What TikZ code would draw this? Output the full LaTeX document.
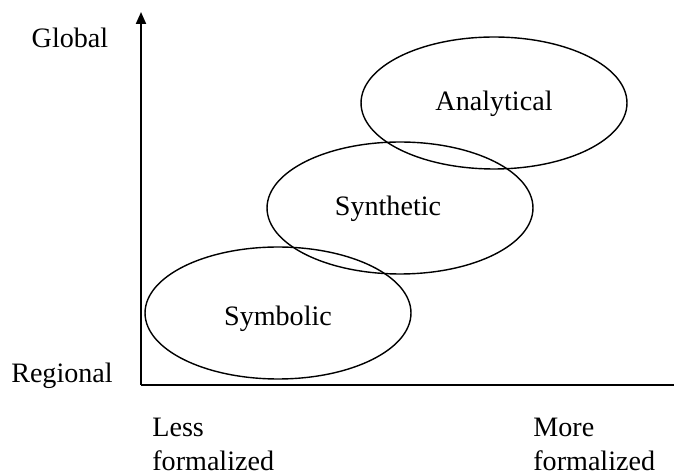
\documentclass[tikz,border=0pt]{standalone}
\usepackage{fontspec}
\setmainfont{Liberation Serif}
\usepackage{tikz}
\usetikzlibrary{arrows.meta,shapes.geometric}

\begin{document}
\begin{tikzpicture}[x=0.02cm,y=-0.02cm,
	oval/.style={ellipse, draw, line width=0.8pt, minimum width=5.32cm, minimum height=2.64cm, inner sep=0pt, text height=0.44cm, text depth=0.12cm},
	lbl/.style={font=\fontsize{16pt}{19.3pt}\selectfont, inner sep=0pt}]
	\useasboundingbox (0,0) rectangle (675,475);
	% axes
	\coordinate (orig) at (141,385);
	\coordinate (ytop) at (141,12);
	\coordinate (xend) at (674,385);
	\draw[line width=1.1pt, -{Triangle[width=0.2cm,length=0.24cm]}] (orig) -- (ytop);
	\draw[line width=1.1pt] (orig) -- (xend);
	% axis labels
	\node[lbl, anchor=base] (global) at (70,48) {Global};
	\node[lbl, anchor=base] (regional) at (62,383) {Regional};
	\node[lbl, align=left, anchor=north west] (less) at (152,418) {Less\\formalized};
	\node[lbl, align=left, anchor=north west] (more) at (533,418) {More\\formalized};
	% ellipses
	\node[oval, lbl, text height=0.56cm, text depth=0.06cm] (symb) at (278,313) {Symbolic};
	\node[oval, lbl] (synth) at (400,208) {Synthetic\hspace*{0.48cm}};
	\node[oval, lbl] (anal) at (494,103) {Analytical};
\end{tikzpicture}
\end{document}
